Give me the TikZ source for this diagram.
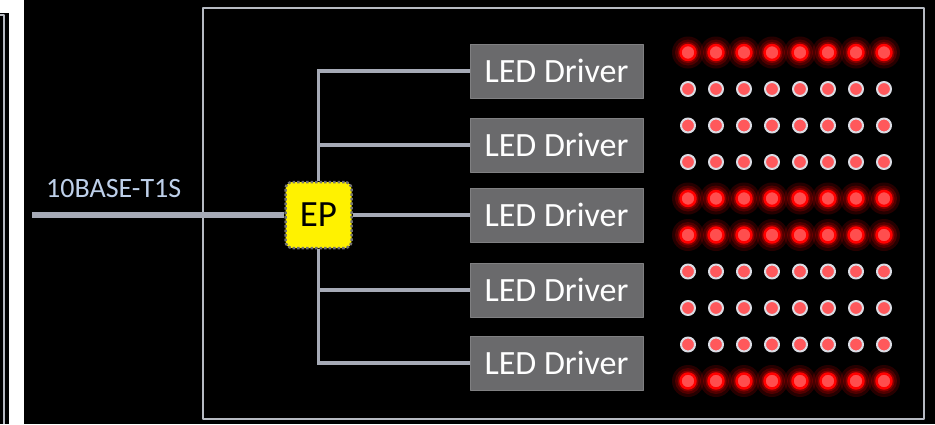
\documentclass[tikz,border=0pt]{standalone}
\usepackage{fontspec}
\setmainfont{Carlito}
\definecolor{busgray}{RGB}{166,170,182}
\definecolor{framegray}{RGB}{182,186,194}
\definecolor{drvgray}{RGB}{106,106,108}
\definecolor{ledcore}{RGB}{255,78,78}
\definecolor{ledoff}{RGB}{255,88,92}
\definecolor{ledring}{RGB}{218,220,228}
\definecolor{labelblue}{RGB}{190,208,234}
\begin{document}
\begin{tikzpicture}[x=1pt, y=-1pt, line join=round,
		bus/.style={draw=busgray, line width=3.5pt, line join=miter},
		driver/.style={fill=drvgray, draw=drvgray!85!white, line width=1pt, minimum width=173pt, minimum height=54pt, inner sep=0pt, text=white, font=\fontsize{34}{40}\selectfont},
		epchip/.style={fill=yellow, draw=black!55, line width=2.5pt, dash pattern=on 2.5pt off 2pt, rounded corners=7pt, minimum size=66pt, inner sep=0pt, font=\fontsize{37}{42}\selectfont},
		ledlit/.style={fill=ledcore, draw=red, line width=2.5pt},
		ledunlit/.style={fill=ledoff, draw=ledring, line width=2pt}]
	\useasboundingbox (0,0) rectangle (935,424);
	% background and frames
	\fill[white] (0,0) rectangle (935,424);
	\fill[black] (24,0) rectangle (935,424);
	\fill[black] (0,13) rectangle (9,424);
	\draw[framegray, line width=1.5pt] (0,15) -- (4,15) -- (4,424);
	\draw[framegray, line width=2.5pt] (203,8) rectangle (924,419);
	% end point and drivers
	\node[epchip] (EP) at (318.5,215) {EP};
	\foreach \n/\y in {1/71,2/145,3/215,4/290,5/363}
		\node[driver] (d\n) at (556.5,\y) {LED Driver};
	\coordinate (in) at (32,215);
	\draw[bus, line width=6pt] (in) -- (EP.west);
	\node[text=labelblue, font=\fontsize{28}{32}\selectfont, anchor=base west, inner sep=0pt] (lbl) at (46,197) {10BASE-T1S};
	\draw[bus] (EP.north) |- (d1.west);
	\draw[bus] (EP.north) |- (d2.west);
	\draw[bus] (EP.east) -- (d3.west);
	\draw[bus] (EP.south) |- (d4.west);
	\draw[bus] (EP.south) |- (d5.west);
	% LED matrix
	\foreach \r in {1,5,6,10}
		\foreach \c in {1,...,8} {
			\coordinate (L) at ({688+(\c-1)*28},{52.5+(\r-1)*36.5});
			\foreach \rr/\op in {16/0.15,13/0.2,10.5/0.3}
				\fill[red, opacity=\op] (L) circle (\rr pt);
			\draw[ledlit] (L) circle (7.5pt);
		}
	\foreach \r in {2,3,4,7,8,9}
		\foreach \c in {1,...,8}
			\draw[ledunlit] ({688+(\c-1)*28},{52.5+(\r-1)*36.5}) circle (7pt);
\end{tikzpicture}
\end{document}
